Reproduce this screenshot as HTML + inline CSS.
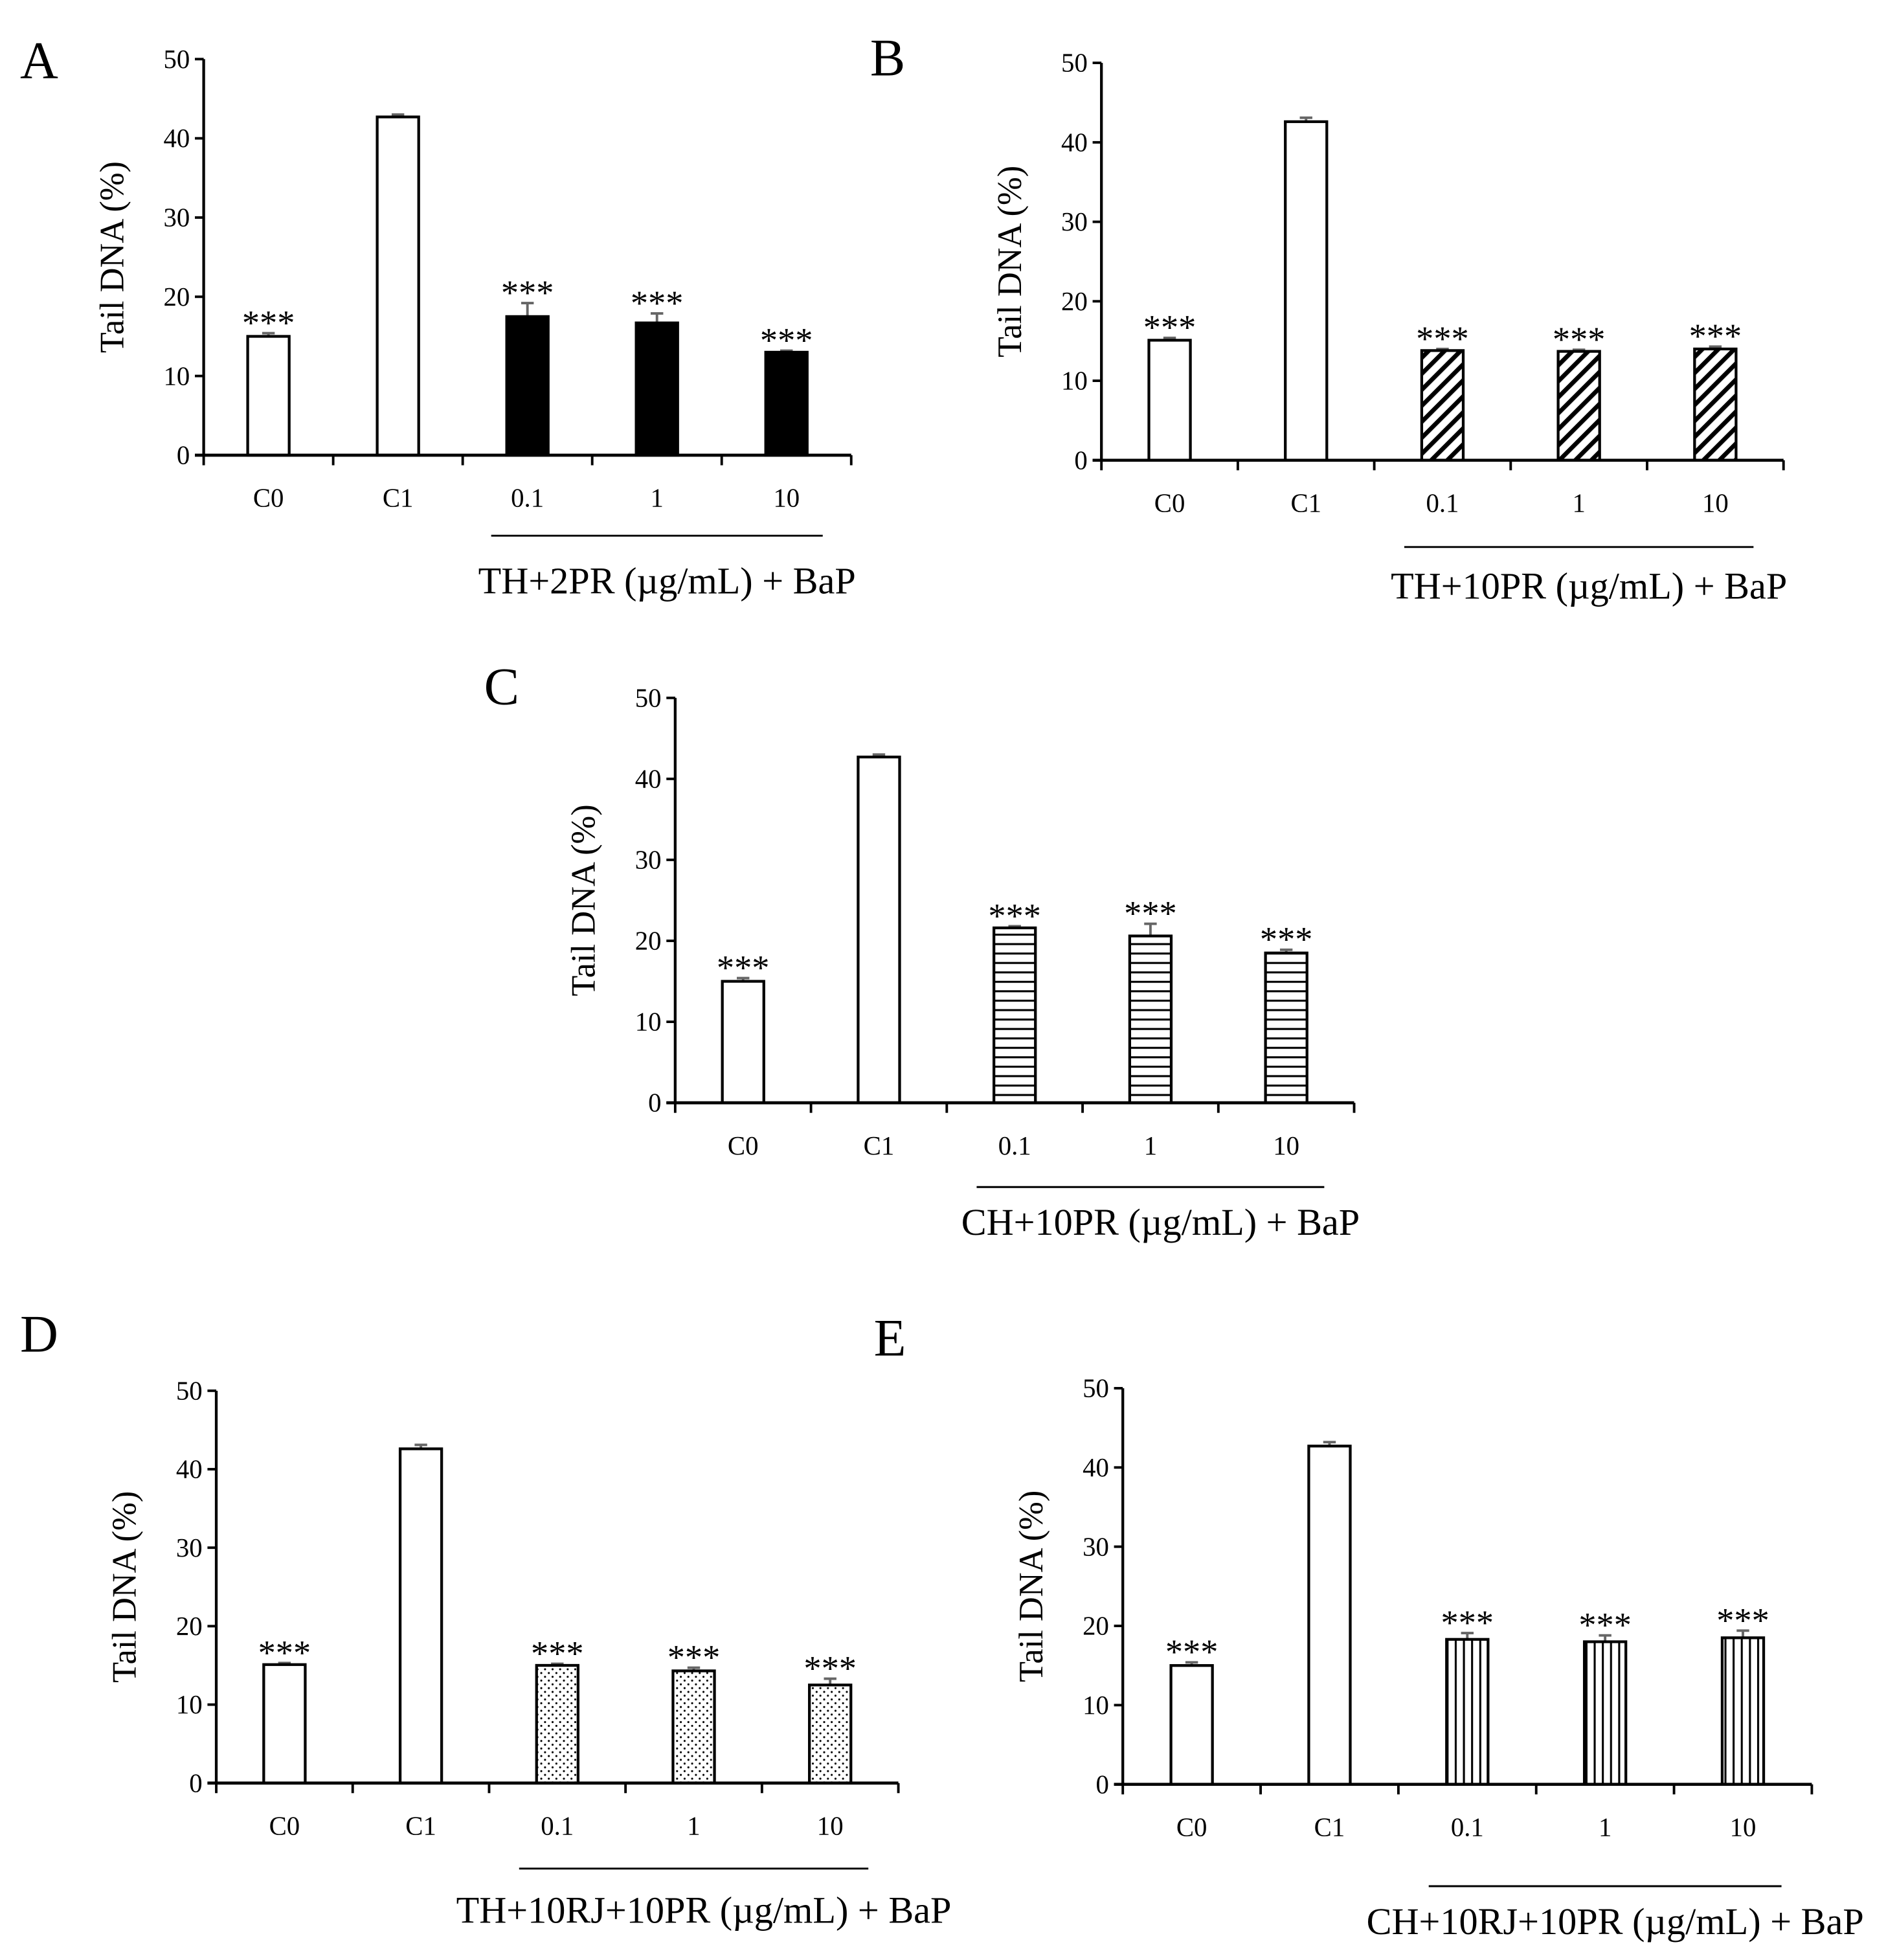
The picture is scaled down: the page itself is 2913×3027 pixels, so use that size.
<!DOCTYPE html>
<html><head><meta charset="utf-8"><style>
html,body{margin:0;padding:0;background:#fff;}
svg{display:block;}
text{font-family:"Liberation Serif",serif;fill:#000;}
</style></head><body>
<svg id="fig" width="2913" height="3027" viewBox="0 0 1500 1558.7" preserveAspectRatio="none" xmlns="http://www.w3.org/2000/svg">
<defs>
<pattern id="pB" patternUnits="userSpaceOnUse" width="9" height="9" patternTransform="rotate(45)"><rect width="9" height="9" fill="#fff"/><rect x="0" y="0" width="3.5" height="9" fill="#000"/></pattern>
<pattern id="pC" patternUnits="userSpaceOnUse" width="8" height="7.5"><rect width="8" height="7.5" fill="#fff"/><rect x="0" y="0" width="8" height="1.6" fill="#000"/></pattern>
<pattern id="pD" patternUnits="userSpaceOnUse" width="6" height="6"><rect width="6" height="6" fill="#fff"/><circle cx="1.5" cy="1.5" r="0.8" fill="#000"/><circle cx="4.5" cy="4.5" r="0.8" fill="#000"/></pattern>
<pattern id="pE" patternUnits="userSpaceOnUse" width="6.5" height="8"><rect width="6.5" height="8" fill="#fff"/><rect x="0" y="0" width="1.6" height="8" fill="#000"/></pattern>
</defs>
</svg>
<script>
const categories = ["C0","C1","0.1","1","10"];
const yTicks = [0,10,20,30,40,50];
const valuesA = [15.0,42.7,17.5,16.7,13.0];
const errorsA = [0.4,0.3,1.7,1.2,0.2];
const valuesB = [15.1,42.6,13.8,13.7,14.0];
const errorsB = [0.3,0.5,0.2,0.2,0.3];
const valuesC = [15.0,42.7,21.6,20.6,18.5];
const errorsC = [0.4,0.3,0.2,1.5,0.4];
const valuesD = [15.1,42.6,15.0,14.3,12.5];
const errorsD = [0.2,0.5,0.2,0.4,0.8];
const valuesE = [15.0,42.7,18.3,18.0,18.5];
const errorsE = [0.4,0.5,0.8,0.8,0.9];
const sig = ["***","","***","***","***"];

const panels = [
 {id:"a",letter:"A",lx:16,ly:62,ax:162,y0:362,y50:47,cw:103,group:"TH+2PR (\u00b5g/mL) + BaP",gy:472,by:426,fill:"#000",vals:valuesA,errs:errorsA},
 {id:"b",letter:"B",lx:692,ly:60,ax:876,y0:366,y50:50,cw:108.5,group:"TH+10PR (\u00b5g/mL) + BaP",gy:476,by:435,fill:"url(#pB)",vals:valuesB,errs:errorsB},
 {id:"c",letter:"C",lx:385,ly:560,ax:537,y0:877,y50:555,cw:108,group:"CH+10PR (\u00b5g/mL) + BaP",gy:982,by:944,fill:"url(#pC)",vals:valuesC,errs:errorsC},
 {id:"d",letter:"D",lx:16,ly:1075,ax:172,y0:1418,y50:1106,cw:108.5,group:"TH+10RJ+10PR (\u00b5g/mL) + BaP",gy:1529,by:1486,fill:"url(#pD)",vals:valuesD,errs:errorsD},
 {id:"e",letter:"E",lx:695,ly:1078,ax:893,y0:1419,y50:1104,cw:109.6,group:"CH+10RJ+10PR (\u00b5g/mL) + BaP",gy:1538,by:1500,fill:"url(#pE)",vals:valuesE,errs:errorsE}
];
const svg = document.getElementById('fig');
const NS = "http://www.w3.org/2000/svg";
function mk(tag, attrs, parent){const e=document.createElementNS(NS,tag);for(const k in attrs)e.setAttribute(k,attrs[k]);parent.appendChild(e);return e;}
panels.forEach(p=>{
  const g = mk('g',{},svg);
  
  
  const yS = v => p.y0 - (p.y0-p.y50)*v/50;
  const xC = i => p.ax + p.cw*(i+0.5);
  const xEnd = p.ax + p.cw*categories.length;
  const L = mk('text',{x:p.lx,y:p.ly,'font-size':42},g); L.textContent=p.letter;
  
  
  p.vals.forEach((v,i)=>{
    const bw=33, x=xC(i)-bw/2, top=yS(v);
    const e=p.errs[i];
    const eb=mk('path',{d:`M${xC(i)} ${top} V${yS(v+e)} M${xC(i)-5} ${yS(v+e)} H${xC(i)+5}`,stroke:'#666','stroke-width':2,fill:'none'},g);
    
    
    const r=mk('rect',{x:x,y:top,width:bw,height:p.y0-top,fill:i<2?'#fff':p.fill,stroke:'#000','stroke-width':2.2},g);
    
    
    if(sig[i]){const s=mk('text',{x:xC(i),y:yS(v+e)+1,'font-size':28,'text-anchor':'middle'},g);s.textContent=sig[i];
      
      }
    const t=mk('text',{x:xC(i),y:p.y0+41,'font-size':21,'text-anchor':'middle'},g);t.textContent=categories[i];
    
    
  });
  const ya=mk('path',{d:`M${p.ax} ${p.y50} V${p.y0}`,stroke:'#000','stroke-width':2.2},g);
  
  
  yTicks.forEach(t=>{
    mk('path',{d:`M${p.ax-7} ${yS(t)} H${p.ax}`,stroke:'#000','stroke-width':2},g);
    const tl=mk('text',{x:p.ax-11,y:yS(t)+7,'font-size':21,'text-anchor':'end'},g);tl.textContent=t;
    
    
  });
  const xa=mk('path',{d:`M${p.ax-7} ${p.y0} H${xEnd}`,stroke:'#000','stroke-width':2.4},g);
  
  
  for(let i=0;i<=categories.length;i++) mk('path',{d:`M${p.ax+p.cw*i} ${p.y0} V${p.y0+8}`,stroke:'#000','stroke-width':2},g);
  const yt=mk('text',{x:0,y:0,'font-size':27,'text-anchor':'middle',transform:`translate(${p.ax-64},${(p.y0+p.y50)/2}) rotate(-90)`},g);
  yt.textContent='Tail DNA (%)';
  
  
  const br=mk('path',{d:`M${xC(2)-p.cw*0.28} ${p.by} H${xC(4)+p.cw*0.28}`,stroke:'#000','stroke-width':1.5},g);
  
  
  const gt=mk('text',{x:(xC(2)+xC(4))/2+8,y:p.gy,'font-size':30,'text-anchor':'middle'},g);
  gt.textContent=p.group;
  
  
});
</script>
</body></html>
